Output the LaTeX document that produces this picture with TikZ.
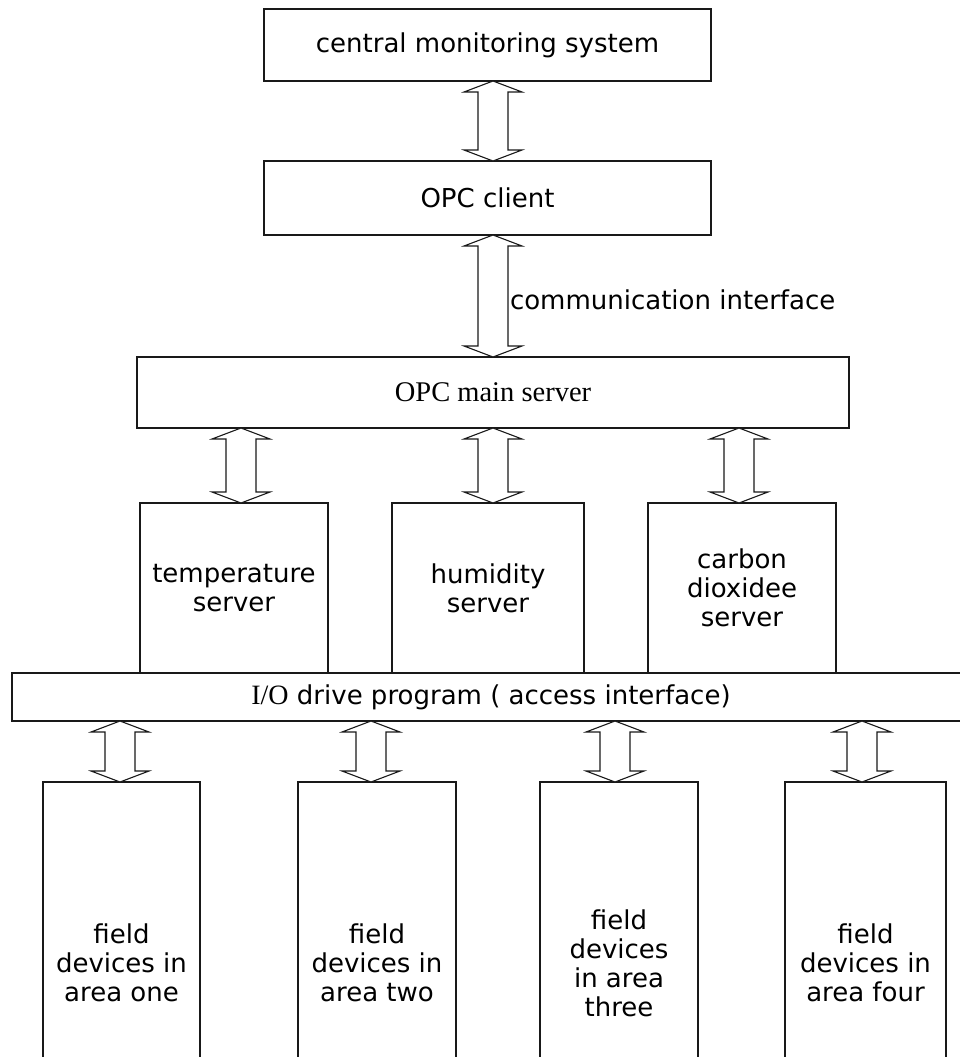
\documentclass[tikz,border=0pt]{standalone}
\usepackage{fontspec}
\setmainfont{DejaVu Sans}
\newfontfamily\serifface{Liberation Serif}
\usetikzlibrary{calc}
\tikzset{
  box/.style={draw=black!90, line width=1.1pt, fill=white, rectangle, outer sep=0pt,
    inner sep=0pt, align=center, font=\fontsize{26}{29}\selectfont},
  dblarrow/.style={draw=black!90, line width=1.1pt, fill=white, line join=miter},
  lbl/.style={font=\fontsize{26}{29}\selectfont, inner sep=0pt, outer sep=0pt}
}
\def\hw{29}\def\sw{15}\def\hh{11pt}
\newcommand\dbl[3]{\draw[dblarrow] let \p1=(#1.south), \p2=(#2.north) in
  (#3,\y1) -- (#3+\hw,\y1-\hh) -- (#3+\sw,\y1-\hh) -- (#3+\sw,\y2+\hh)
  -- (#3+\hw,\y2+\hh) -- (#3,\y2) -- (#3-\hw,\y2+\hh) -- (#3-\sw,\y2+\hh)
  -- (#3-\sw,\y1-\hh) -- (#3-\hw,\y1-\hh) -- cycle;}
\begin{document}
\begin{tikzpicture}[x=1pt,y=1pt]
\useasboundingbox (0,0) rectangle (960,-1057);
\begin{scope}
\clip (0,0) rectangle (960,-1057);
\node[box, minimum width=447pt, minimum height=72pt] (cms) at (487.5,-45) {central monitoring system};
\node[box, minimum width=447pt, minimum height=74pt] (client) at (487.5,-198) {OPC client};
\node[box, minimum width=712pt, minimum height=71pt] (main) at (493,-392.5) {\fontsize{28.5}{30}\serifface OPC main server};
\node[box, minimum width=188pt, minimum height=170pt] (temp) at (234,-588) {temperature\\server};
\node[box, minimum width=192pt, minimum height=170pt] (hum) at (488,-588) {humidity\\server};
\node[box, minimum width=188pt, minimum height=170pt] (co2) at (742,-588) {carbon\\dioxidee\\server};
\node[box, minimum width=958pt, minimum height=48pt] (io) at (491,-697) {{\fontsize{28}{29}\serifface I/O} drive program ( access interface)};
\node[box, minimum width=157pt, minimum height=362pt] (f1) at (121.5,-963) {field\\devices in\\area one};
\node[box, minimum width=158pt, minimum height=362pt] (f2) at (377,-963) {field\\devices in\\area two};
\node[box, minimum width=158pt, minimum height=362pt] (f3) at (619,-963) {field\\devices\\in area\\three};
\node[box, minimum width=161pt, minimum height=362pt] (f4) at (865.5,-963) {field\\devices in\\area four};
\dbl{cms}{client}{493}
\dbl{client}{main}{493}
\node[lbl, anchor=west] (ci) at (510,-300) {communication interface};
\dbl{main}{temp}{241}
\dbl{main}{hum}{493}
\dbl{main}{co2}{739}
\dbl{io}{f1}{120}
\dbl{io}{f2}{371}
\dbl{io}{f3}{615}
\dbl{io}{f4}{862}
\end{scope}
\end{tikzpicture}
\end{document}
